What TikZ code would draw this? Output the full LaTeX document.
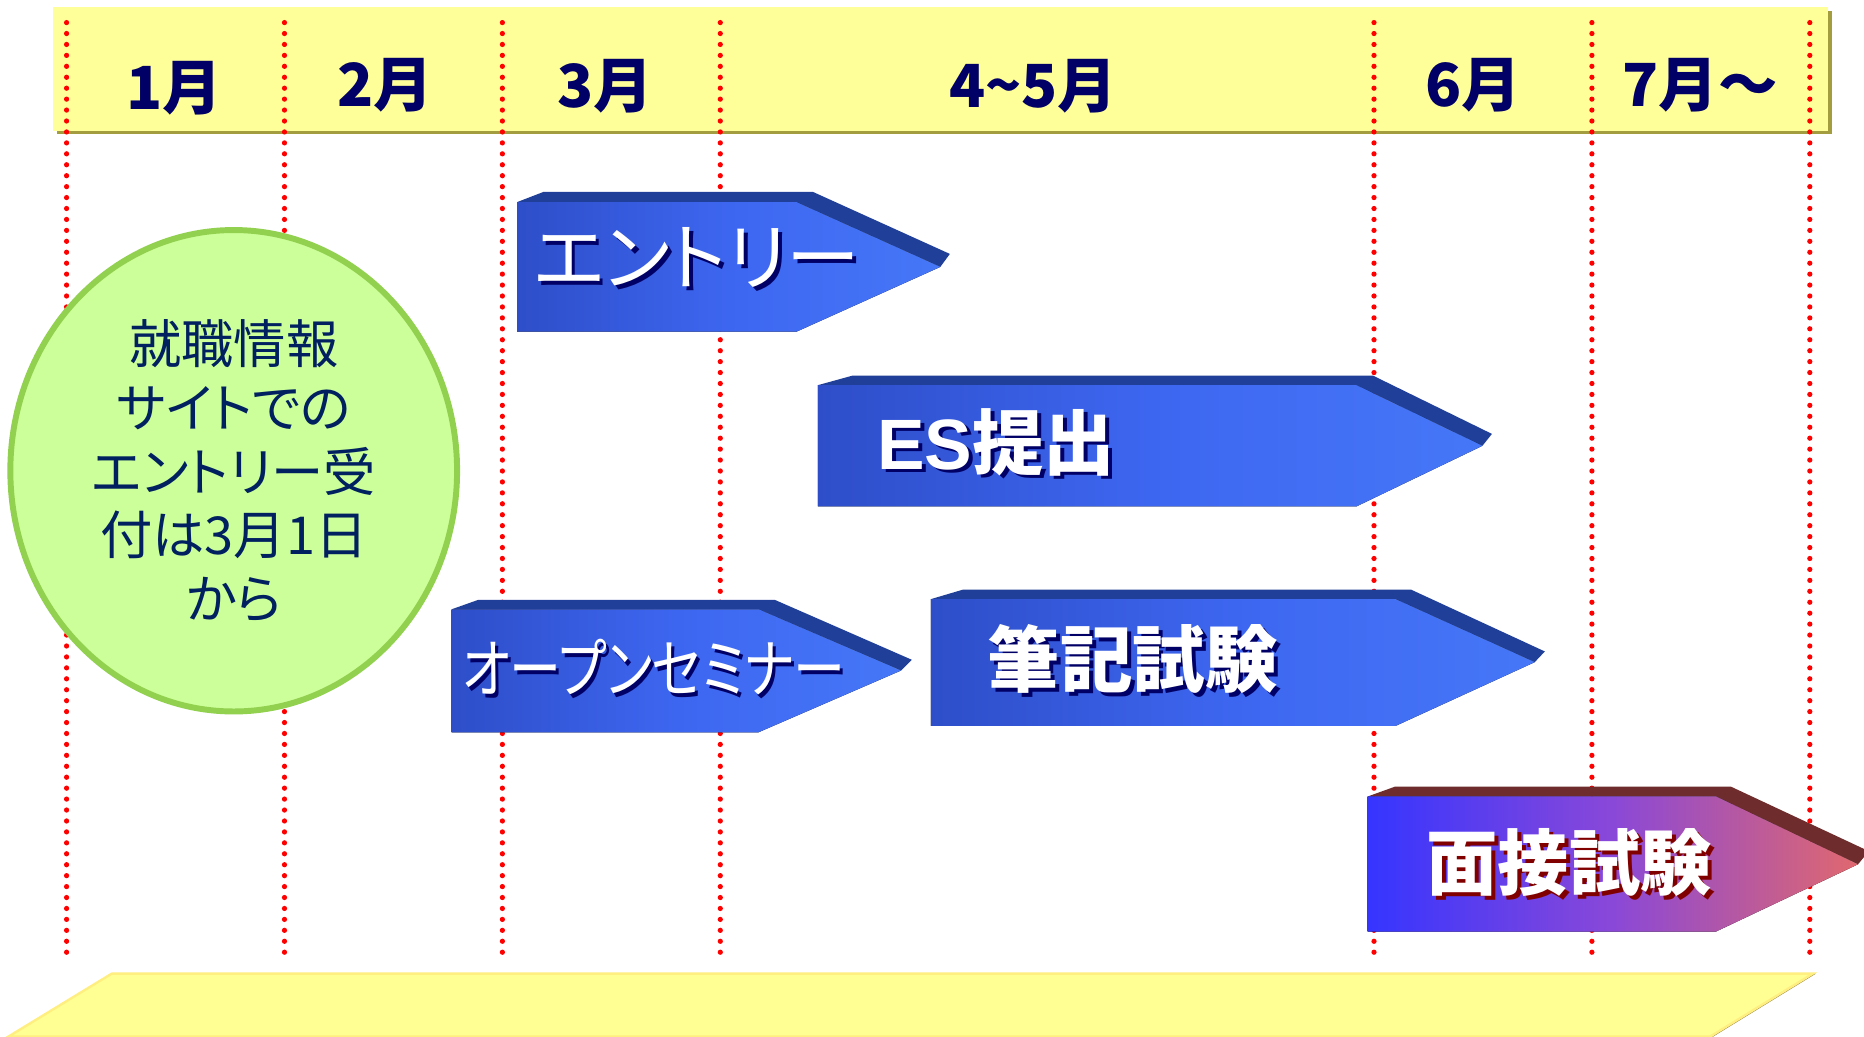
\documentclass[tikz,border=0pt]{standalone}
\usepackage{fontspec}
\newfontfamily\jp{Noto Sans CJK JP}
\newfontfamily\jpp[RawFeature=+palt]{Noto Sans CJK JP}
\newfontfamily\lib{Liberation Sans}
\definecolor{hdr}{HTML}{FFFF99}
\definecolor{hdrsh}{HTML}{A39D3F}
\definecolor{bar}{HTML}{FFFF94}
\definecolor{baredge}{HTML}{FFEE80}
\definecolor{barsh}{HTML}{8C7A3C}
\definecolor{navy}{HTML}{000066}
\definecolor{cfill}{HTML}{CCFF99}
\definecolor{cdraw}{HTML}{92D050}
\definecolor{ctext}{HTML}{002060}
\definecolor{bevB}{HTML}{203F98}
\definecolor{faceL}{HTML}{2E4EC9}
\definecolor{faceM}{HTML}{3D66F0}
\definecolor{faceR}{HTML}{4677F8}
\definecolor{redL}{HTML}{3535FF}
\definecolor{redM}{HTML}{8A48D8}
\definecolor{redR}{HTML}{E0686E}
\definecolor{bevR}{HTML}{6E2C2C}
\definecolor{shR}{HTML}{800000}
\newcommand\shdtext[2]{\rlap{\kern1.6pt\raisebox{-1.6pt}{\textcolor{#1}{#2}}}#2}
\tikzset{
  month/.style={font=\jp\bfseries\fontsize{25pt}{30pt}\selectfont, text=navy, inner sep=0pt},
  gridline/.style={draw=red, line width=2.2pt, line cap=round, dash pattern=on 0pt off 4.6pt},
  bevelb/.style={fill=bevB},
  faceb/.style={left color=faceL, right color=faceR, middle color=faceM},
  bevelr/.style={fill=bevR},
  facer/.style={left color=redL, right color=redR, middle color=redM},
  arrtext/.style={text=white, inner sep=0pt},
}
\begin{document}
\begin{tikzpicture}[x=0.5pt,y=-0.5pt]
\useasboundingbox (0,0) rectangle (1568,872);
\clip (0,0) rectangle (1568,872);
\fill[white] (0,0) rectangle (1568,872);
% header band
\fill[hdrsh] (48,9) rectangle (1541,113);
\fill[hdr] (45,6.3) rectangle (1537.6,110.5);
% grid lines
\foreach \k in {0,1,2,3,6,7,8}
  \draw[gridline] (56+183.3*\k,19) -- (56+183.3*\k,810);
% month labels
\node[month] (m1) at (146.5,73.9) {1月};
\node[month] (m2) at (324,71.3) {2月};
\node[month] (m3) at (509,72.6) {3月};
\node[month] (m45) at (869,72.9) {4\char"7E 5月};
\node[month] (m6) at (1239.5,72) {6月};
\node[month] (m7) at (1430,72) {7月～};
% bottom bar
\fill[barsh] (96,819) -- (1527.5,819) -- (1441,872) -- (7,872) -- cycle;
\fill[bar, draw=baredge, line width=1pt] (94,819) -- (1525,819) -- (1438.5,872) -- (7,872) -- cycle;
% circle
\fill[cfill, draw=cdraw, line width=2.5pt] (196.6,396) ellipse [x radius=93.95pt, y radius=101.25pt];
\node[font=\jpp\fontsize{22pt}{26.75pt}\selectfont, text=ctext, align=center, inner sep=0pt] (circ) at (196.7,396)
  {就職情報\\サイトでの\\エントリー受\\付は3月1日\\から};
% entry arrow
\fill[bevelb] (435,170) -- (457,161.5) -- (684,161.5) -- (799,213.6) -- (791,224.5) -- (670,170) -- cycle;
\fill[faceb] (435,170) -- (670,170) -- (791,224.5) -- (670,279) -- (435,279) -- cycle;
\node[arrtext, font=\jpp\fontsize{31pt}{36pt}\selectfont] (ent) at (586,218.5) {\shdtext{navy}{エントリー}};
% ES arrow
\fill[bevelb] (688,324) -- (717,316) -- (1155,316) -- (1255,365) -- (1247,375) -- (1141,324) -- cycle;
\fill[faceb] (688,324) -- (1141,324) -- (1247,375) -- (1141,426) -- (688,426) -- cycle;
\node[arrtext, font=\jp\bfseries\fontsize{30pt}{34pt}\selectfont] (es) at (838,373.5) {\shdtext{navy}{{\lib\bfseries ES}提出}};
% open seminar arrow
\fill[bevelb] (380,512.5) -- (402,504.7) -- (652,504.7) -- (767,555) -- (758,564) -- (638,512.5) -- cycle;
\fill[faceb] (380,512.5) -- (638,512.5) -- (758,564) -- (638,616) -- (380,616) -- cycle;
\node[arrtext, font=\jpp\fontsize{27pt}{32pt}\selectfont] (sem) at (550,563) {\scalebox{0.81}[1]{\shdtext{navy}{オープンセミナー}}};
% written test arrow
\fill[bevelb] (783,504) -- (810,496) -- (1187,496) -- (1299.5,548) -- (1291,557) -- (1174,504) -- cycle;
\fill[faceb] (783,504) -- (1174,504) -- (1291,557) -- (1174,610.6) -- (783,610.6) -- cycle;
\node[arrtext, font=\jp\bfseries\fontsize{30.5pt}{34pt}\selectfont] (wr) at (953,556) {\shdtext{navy}{筆記試験}};
% interview arrow
\fill[bevelr] (1150.5,670) -- (1173.5,661.7) -- (1456,661.7) -- (1572,716) -- (1563,727) -- (1443.5,670) -- cycle;
\fill[facer] (1150.5,670) -- (1443.5,670) -- (1563,727) -- (1443.5,783.6) -- (1150.5,783.6) -- cycle;
\node[arrtext, font=\jp\bfseries\fontsize{30pt}{34pt}\selectfont] (iv) at (1320,727) {\shdtext{shR}{面接試験}};
\end{tikzpicture}
\end{document}
